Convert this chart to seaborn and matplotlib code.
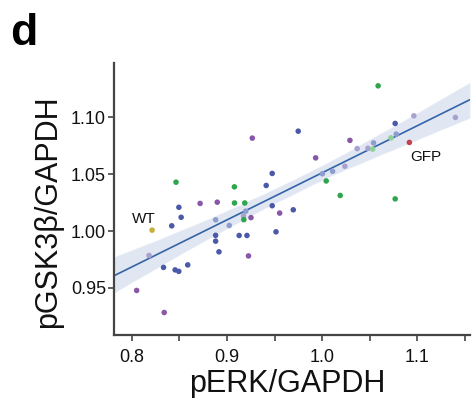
import numpy as np
import pandas as pd
import matplotlib
matplotlib.use("Agg")
import matplotlib.pyplot as plt
import seaborn as sns

# ---- data ----
perk = [0.8465, 0.9266, 0.9475, 0.9078, 0.9412, 0.8495, 0.8718, 0.8898, 0.9079, 0.9187,
        0.9475, 0.9748, 1.0291, 0.9931, 1.0002, 1.0109, 1.0238, 1.0042, 1.0189, 1.0587,
        1.0766, 1.0962, 1.1398, 1.0367, 1.0480, 1.0539, 1.0530, 1.0722, 1.0777, 1.0915,
        1.0766, 0.9696, 0.9553, 0.8519, 0.8420, 0.8214, 0.8881, 0.8881, 0.8881, 0.8916,
        0.9024, 0.9128, 0.9210, 0.9173, 0.9197, 0.9177, 0.9252, 0.9226, 0.9515, 0.8182,
        0.8334, 0.8456, 0.8494, 0.8588, 0.8052, 0.8341]
pgsk = [1.0430, 1.0818, 1.0507, 1.0389, 1.0401, 1.0209, 1.0243, 1.0254, 1.0247, 1.0247,
        1.0223, 1.0879, 1.0798, 1.0644, 1.0504, 1.0526, 1.0570, 1.0441, 1.0313, 1.1278,
        1.0947, 1.1014, 1.1000, 1.0725, 1.0728, 1.0776, 1.0721, 1.0820, 1.0853, 1.0780,
        1.0283, 1.0187, 1.0158, 1.0121, 1.0046, 1.0008, 1.0099, 0.9962, 0.9911, 0.9817,
        1.0049, 0.9961, 0.9961, 1.0133, 1.0175, 1.0100, 1.0118, 0.9781, 0.9993, 0.9785,
        0.9680, 0.9658, 0.9645, 0.9702, 0.9477, 0.9283]
group = ["green", "purple", "blue", "green", "blue", "blue", "purple", "purple", "green", "green",
         "blue", "blue", "purple", "purple", "lightblue", "lightblue", "lavender", "green", "green", "green",
         "blue", "lavender", "lavender", "lavender", "lavender", "lightblue", "lightgreen", "lightgreen", "lightblue", "GFP",
         "green", "blue", "purple", "blue", "blue", "WT", "lightblue", "blue", "blue", "blue",
         "lightblue", "blue", "blue", "lavender", "lightblue", "green", "purple", "purple", "blue", "lavender",
         "blue", "blue", "blue", "blue", "purple", "purple"]
palette = {"blue": "#4b5aa8", "purple": "#8a57a8", "green": "#2fa64e",
           "lavender": "#a9a2cf", "lightblue": "#8d9dcf", "lightgreen": "#8fcf98",
           "WT": "#c8ae3e", "GFP": "#c8404e"}

x_ticks = [0.80, 0.85, 0.90, 0.95, 1.00, 1.05, 1.10, 1.15]
x_ticklabels = ["0.8", "", "0.9", "", "1.0", "", "1.1", ""]
y_ticks = [0.95, 1.00, 1.05, 1.10]
y_ticklabels = ["0.95", "1.00", "1.05", "1.10"]

df = pd.DataFrame({"pERK": perk, "pGSK": pgsk, "group": group})

sns.set_style("white")
plt.rcParams["font.family"] = ["Liberation Sans", "DejaVu Sans"]

fig = plt.figure(figsize=(4.77, 3.98), dpi=100)
ax = fig.add_axes([0.2396, 0.158, 0.7454, 0.684])

ax.set_xlim(0.7817, 1.155)
ax.set_ylim(0.9084, 1.148)

sns.regplot(data=df, x="pERK", y="pGSK", scatter=False, ax=ax, truncate=False,
            color="#1a68b8", ci=95, n_boot=1000, seed=3,
            line_kws={"linewidth": 1.2, "color": "#3563a8"})
sns.scatterplot(data=df, x="pERK", y="pGSK", hue="group", palette=palette,
                s=16, linewidth=0, legend=False, ax=ax, zorder=3)

ax.set_xlim(0.7817, 1.155)
ax.set_ylim(0.9084, 1.148)

ax.set_xticks(x_ticks)
ax.set_xticklabels(x_ticklabels)
ax.set_yticks(y_ticks)
ax.set_yticklabels(y_ticklabels)

for s in ["top", "right"]:
    ax.spines[s].set_visible(False)
for s in ["left", "bottom"]:
    ax.spines[s].set_color("#444444")
    ax.spines[s].set_linewidth(1.6)

ax.tick_params(axis="both", direction="out", length=4, width=1.2, color="#444444",
               labelsize=13, labelcolor="#111111", bottom=True, left=True)
ax.tick_params(axis="y", pad=2)
ax.tick_params(axis="x", pad=6)

ax.set_xlabel("pERK/GAPDH", fontsize=22, va="center", color="#111111")
ax.xaxis.set_label_coords(0.4856, -0.178)
ax.set_ylabel("pGSK3\u03b2/GAPDH", fontsize=22, va="center", ha="center", color="#111111")
ax.yaxis.set_label_coords(-0.186, 0.454)

ax.text(0.8214 - 0.0085, 1.0008 + 0.0095, "WT", fontsize=11, ha="center", va="center", color="#111111")
ax.text(1.0915 + 0.0177, 1.0780 - 0.0125, "GFP", fontsize=11, ha="center", va="center", color="#111111")

fig.text(0.021, 0.887, "d", fontsize=32, fontweight="bold", ha="left", va="baseline", color="black")

fig.savefig("out.png", dpi=100, facecolor="white")
